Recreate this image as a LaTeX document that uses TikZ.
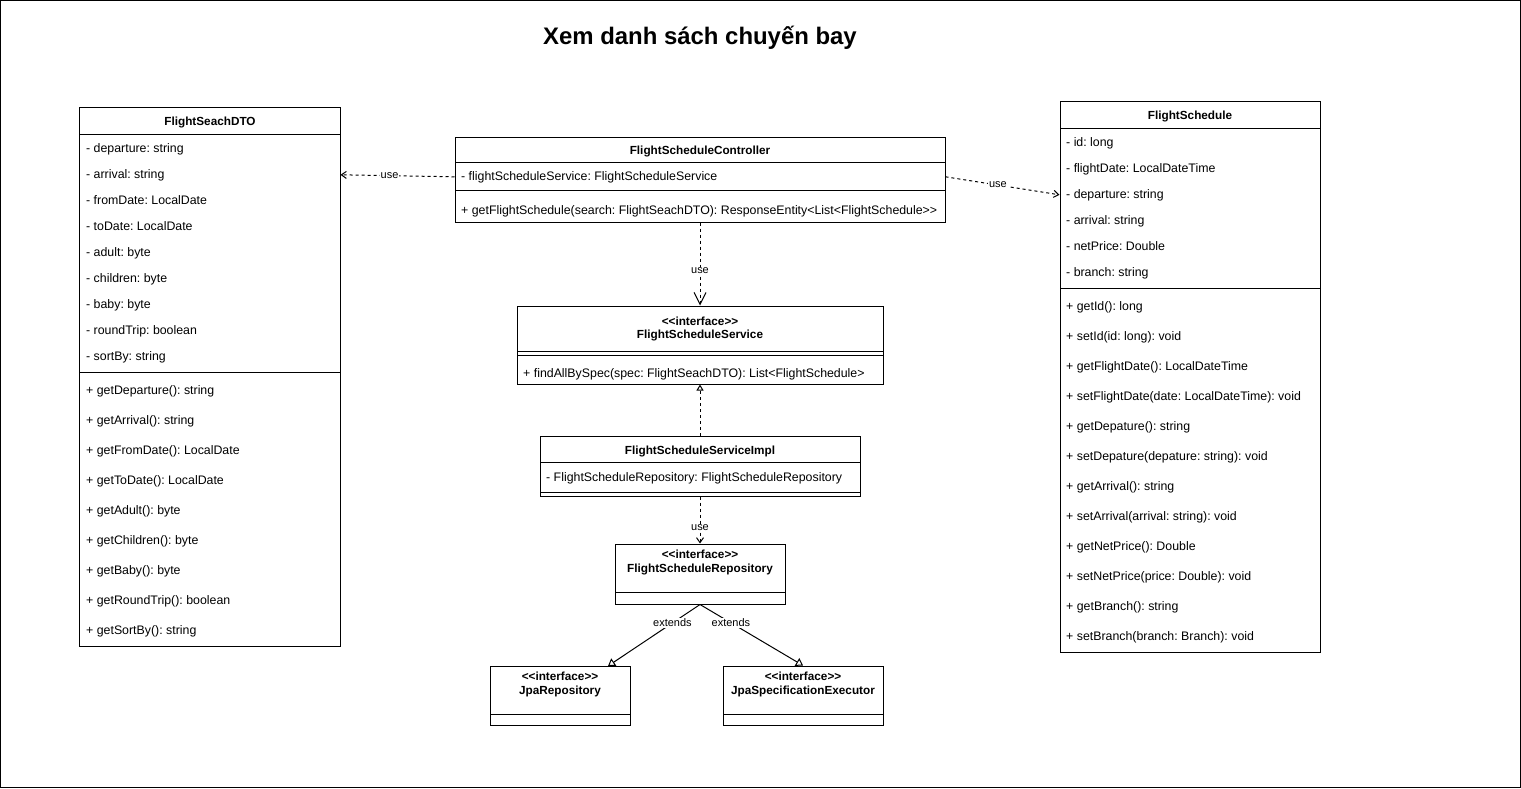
\documentclass[tikz,border=0pt]{standalone}
\usepackage{fontspec}
\setmainfont{Liberation Sans}
\usetikzlibrary{arrows.meta}
\newcommand\stereo[1]{<\kern0pt<#1>\kern0pt>}
\tikzset{
  classbox/.style={draw, line width=1bp, inner sep=0pt},
  sep/.style={line width=1bp},
  row/.style={anchor=base west, inner sep=0pt, font=\fontsize{12.4}{14}\selectfont\frenchspacing},
  head/.style={anchor=base, inner sep=0pt, font=\fontsize{11.8}{14}\selectfont\bfseries},
  lbl/.style={fill=white, inner sep=1bp, font=\fontsize{11}{13}\selectfont},
  dep/.style={line width=1bp, dash pattern=on 3bp off 3bp, -{Straight Barb[length=5bp,width=7bp]}},
  bigdep/.style={dep, -{Straight Barb[length=12bp,width=12bp]}},
  real/.style={line width=1bp, dash pattern=on 3bp off 3bp, -{Triangle[open,fill=white,length=6bp,width=7bp]}},
  ext/.style={line width=1bp, -{Triangle[open,fill=white,length=7bp,width=9bp]}}
}
\begin{document}
\begin{tikzpicture}[x=1bp,y=-1bp]
\useasboundingbox (0,0) rectangle (1521,788);
\draw[line width=1bp] (0.5,0.5) rectangle (1520.5,787.5);
\draw (700,38) node[font=\fontsize{24}{28}\selectfont\bfseries] (title) {Xem danh sách chuyến bay};

% FlightSeachDTO
\node[classbox, minimum width=260bp, minimum height=538bp] (dto) at (210,377) {};
\draw (210,125) node[head] (dtoh) {FlightSeachDTO};
\draw[sep] (80,134) -- (340,134);
\draw (86,152) node[row] (dtoa1) {- departure: string};
\draw (86,178) node[row] (dtoa2) {- arrival: string};
\draw (86,204) node[row] (dtoa3) {- fromDate: LocalDate};
\draw (86,230) node[row] (dtoa4) {- toDate: LocalDate};
\draw (86,256) node[row] (dtoa5) {- adult: byte};
\draw (86,282) node[row] (dtoa6) {- children: byte};
\draw (86,308) node[row] (dtoa7) {- baby: byte};
\draw (86,334) node[row] (dtoa8) {- roundTrip: boolean};
\draw (86,360) node[row] (dtoa9) {- sortBy: string};
\draw[sep] (80,372) -- (340,372);
\draw (86,394) node[row] (dtom1) {+ getDeparture(): string};
\draw (86,424) node[row] (dtom2) {+ getArrival(): string};
\draw (86,454) node[row] (dtom3) {+ getFromDate(): LocalDate};
\draw (86,484) node[row] (dtom4) {+ getToDate(): LocalDate};
\draw (86,514) node[row] (dtom5) {+ getAdult(): byte};
\draw (86,544) node[row] (dtom6) {+ getChildren(): byte};
\draw (86,574) node[row] (dtom7) {+ getBaby(): byte};
\draw (86,604) node[row] (dtom8) {+ getRoundTrip(): boolean};
\draw (86,634) node[row] (dtom9) {+ getSortBy(): string};

% FlightScheduleController
\node[classbox, minimum width=490bp, minimum height=85bp] (ctrl) at (700,179.5) {};
\draw (700,154) node[head] (ctrlh) {FlightScheduleController};
\draw[sep] (455,162) -- (945,162);
\draw (461,180) node[row] (ctrla1) {- flightScheduleService: FlightScheduleService};
\draw[sep] (455,190) -- (945,190);
\draw (461,214) node[row] (ctrlm1) {+ getFlightSchedule(search: FlightSeachDTO): ResponseEntity<List<FlightSchedule>\kern0pt>};

% FlightSchedule
\node[classbox, minimum width=260bp, minimum height=550bp] (fs) at (1190,377) {};
\draw (1190,119) node[head] (fsh) {FlightSchedule};
\draw[sep] (1060,128) -- (1320,128);
\draw (1066,146) node[row] (fsa1) {- id: long};
\draw (1066,172) node[row] (fsa2) {- flightDate: LocalDateTime};
\draw (1066,198) node[row] (fsa3) {- departure: string};
\draw (1066,224) node[row] (fsa4) {- arrival: string};
\draw (1066,250) node[row] (fsa5) {- netPrice: Double};
\draw (1066,276) node[row] (fsa6) {- branch: string};
\draw[sep] (1060,288) -- (1320,288);
\draw (1066,310) node[row] (fsm1) {+ getId(): long};
\draw (1066,340) node[row] (fsm2) {+ setId(id: long): void};
\draw (1066,370) node[row] (fsm3) {+ getFlightDate(): LocalDateTime};
\draw (1066,400) node[row] (fsm4) {+ setFlightDate(date: LocalDateTime): void};
\draw (1066,430) node[row] (fsm5) {+ getDepature(): string};
\draw (1066,460) node[row] (fsm6) {+ setDepature(depature: string): void};
\draw (1066,490) node[row] (fsm7) {+ getArrival(): string};
\draw (1066,520) node[row] (fsm8) {+ setArrival(arrival: string): void};
\draw (1066,550) node[row] (fsm9) {+ getNetPrice(): Double};
\draw (1066,580) node[row] (fsm10) {+ setNetPrice(price: Double): void};
\draw (1066,610) node[row] (fsm11) {+ getBranch(): string};
\draw (1066,640) node[row] (fsm12) {+ setBranch(branch: Branch): void};

% FlightScheduleService
\node[classbox, minimum width=366bp, minimum height=78bp] (svc) at (700,345) {};
\draw (700,325) node[head] (svcs) {\stereo{interface}};
\draw (700,338) node[head] (svch) {FlightScheduleService};
\draw[sep] (517,351) -- (883,351);
\draw[sep] (517,355) -- (883,355);
\draw (523,377) node[row] (svcm1) {+ findAllBySpec(spec: FlightSeachDTO): List<FlightSchedule>};

% FlightScheduleServiceImpl
\node[classbox, minimum width=320bp, minimum height=60bp] (impl) at (700,466) {};
\draw (700,454) node[head] (implh) {FlightScheduleServiceImpl};
\draw[sep] (540,462) -- (860,462);
\draw (546,481) node[row] (impla1) {- FlightScheduleRepository: FlightScheduleRepository};
\draw[sep] (540,492) -- (860,492);

% FlightScheduleRepository
\node[classbox, minimum width=170bp, minimum height=60bp] (repo) at (700,574) {};
\draw (700,558) node[head] (repos) {\stereo{interface}};
\draw (700,572) node[head] (repoh) {FlightScheduleRepository};
\draw[sep] (615,592) -- (785,592);

% JpaRepository
\node[classbox, minimum width=140bp, minimum height=59bp] (jparepo) at (560,695.5) {};
\draw (560,680) node[head] (jparepos) {\stereo{interface}};
\draw (560,694) node[head] (jparepoh) {JpaRepository};
\draw[sep] (490,714) -- (630,714);

% JpaSpecificationExecutor
\node[classbox, minimum width=160bp, minimum height=59bp] (jpaspec) at (803,695.5) {};
\draw (803,680) node[head] (jpaspecs) {\stereo{interface}};
\draw (803,694) node[head] (jpaspech) {JpaSpecificationExecutor};
\draw[sep] (723,714) -- (883,714);

% connectors
\coordinate (jr) at (608,666);
\draw[dep] (ctrl.west |- ctrla1.west) -- node[lbl, pos=0.57] {use} (dto.east |- dtoa2.west);
\draw[dep] (ctrl.east |- ctrla1.west) -- node[lbl, pos=0.46] {use} (fs.west |- fsa3.west);
\draw[bigdep] (ctrl.south) -- node[lbl, pos=0.58] {use} (svc.north);
\draw[real] (impl.north) -- (svc.south);
\draw[dep] (impl.south) -- node[lbl, pos=0.67] {use} (repo.north);
\draw[ext] (repo.south) -- node[lbl, pos=0.3] {extends} (jr);
\draw[ext] (repo.south) -- node[lbl, pos=0.3] {extends} (jpaspec.north);
\end{tikzpicture}
\end{document}
